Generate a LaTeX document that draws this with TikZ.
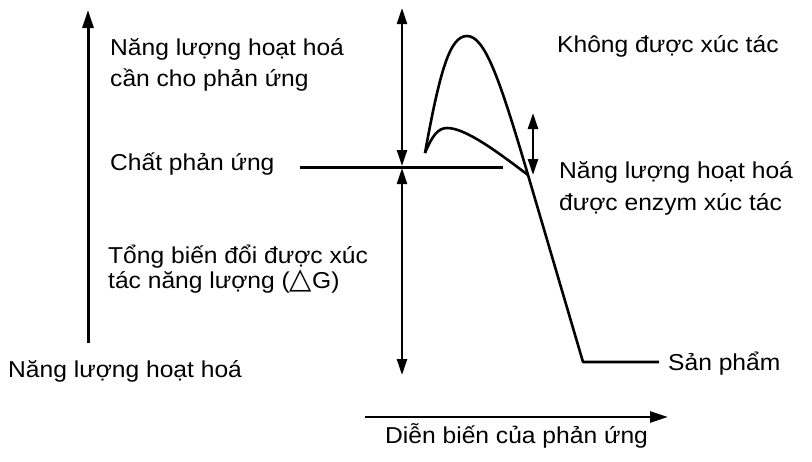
\documentclass[tikz,border=0pt]{standalone}
\usepackage{fontspec}
\setmainfont{Liberation Sans}[FakeStretch=1.07]
\newfontfamily\symfont{DejaVu Sans}
\usetikzlibrary{arrows.meta}
\tikzset{
  lbl/.style={anchor=base west, inner sep=0pt, font=\fontsize{23}{27}\selectfont},
  axis/.style={line width=3pt, -{Triangle[length=18pt,width=11pt]}},
  dbl/.style={line width=2.4pt, {Triangle[length=16pt,width=10pt]}-{Triangle[length=16pt,width=10pt]}},
  curve/.style={line width=2.6pt, line join=round}
}
\begin{document}
\begin{tikzpicture}[x=1pt,y=-1pt]
\useasboundingbox (0,0) rectangle (812,461);
% key points
\coordinate (ax0) at (88,343);
\coordinate (ax1) at (88,10);
\coordinate (m0) at (402,8);
\coordinate (m1) at (402,166);
\coordinate (m2) at (402,168);
\coordinate (m3) at (402,375);
\coordinate (r0) at (300,167);
\coordinate (r1) at (503,167);
\coordinate (s) at (425,153);
\coordinate (pk) at (467,36);
\coordinate (pc) at (447,128);
\coordinate (j) at (528,175);
\coordinate (b) at (583,362);
\coordinate (p) at (659,362);
\coordinate (e0) at (533,113);
\coordinate (e1) at (533,175);
\coordinate (h0) at (365,417);
\coordinate (h1) at (668,417);
% axes and arrows
\draw[axis] (ax0) -- (ax1);
\draw[dbl] (m1) -- (m0);
\draw[dbl] (m2) -- (m3);
\draw[dbl] (e0) -- (e1);
\draw[axis, line width=2.4pt] (h0) -- (h1);
\draw[line width=3pt] (r0) -- (r1);
% curves
\draw[curve] (s) .. controls (440,70) and (450,36) .. (pk) .. controls (485,36) and (500,80) .. (j);
\draw[curve] (s) .. controls (432,136) and (438,128) .. (pc) .. controls (465,128) and (495,150) .. (j);
\draw[curve] (j) -- (b) -- (p);
% labels
\node[lbl] (t1) at (110,55) {Năng lượng hoạt hoá};
\node[lbl] (t2) at (110,86) {cần cho phản ứng};
\node[lbl] (t3) at (110,170) {Chất phản ứng};
\node[lbl] (t4) at (108,263) {Tổng biến đổi được xúc};
\node[lbl] (t5) at (108,288) {tác năng lượng ({\symfont\fontsize{29}{30}\selectfont △}G)};
\node[lbl] (t6) at (8,377) {Năng lượng hoạt hoá};
\node[lbl] (t7) at (557,52) {Không được xúc tác};
\node[lbl] (t8) at (559,178) {Năng lượng hoạt hoá};
\node[lbl] (t9) at (559,210) {được enzym xúc tác};
\node[lbl] (t10) at (668,370) {Sản phẩm};
\node[lbl] (t11) at (385,443) {Diễn biến của phản ứng};
\end{tikzpicture}
\end{document}
